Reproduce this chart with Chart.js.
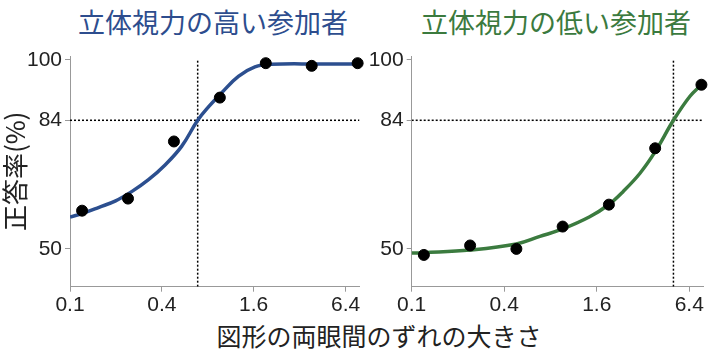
<!DOCTYPE html>
<html>
<head>
<meta charset="utf-8">
<script src="https://cdn.jsdelivr.net/npm/chart.js@4"></script>
<style>
    body { margin: 0; width: 720px; height: 351px; background: #fff; position: relative; overflow: hidden; }
    canvas { position: absolute; top: 0; }
    .ttl { position: absolute; font-family: "Noto Sans CJK JP"; white-space: nowrap; transform: translate(-50%, -50%); line-height: 1; }
</style>
</head>
<body>
<div class="ttl" id="ttlHigh" style="left:213px; top:21px; font-size:27px; color:#2d4d8e">立体視力の高い参加者</div>
<div class="ttl" id="ttlLow" style="left:556px; top:21px; font-size:27px; color:#3b7a3e">立体視力の低い参加者</div>
<div class="ttl" id="xTitle" style="left:379px; top:335px; font-size:25px; color:#222">図形の両眼間のずれの大きさ</div>
<canvas id="highChart" width="366" height="351" style="left:0"></canvas>
<canvas id="lowChart" width="358" height="351" style="left:362px"></canvas>
<script>
// ===== DATA =====
const xTicks = [0.1, 0.4, 1.6, 6.4];
const yTicks = [50, 84, 100];
const sizes = [0.12, 0.24, 0.48, 0.96, 1.92, 3.84, 7.68];

const highPts = [60.1, 63.3, 78.4, 90.0, 99.1, 98.4, 99.1];
const lowPts = [48.4, 50.9, 50.0, 55.9, 61.7, 76.6, 93.4];

// fitted curves
const highCurveX = [0.1, 0.121, 0.155, 0.199, 0.255, 0.327, 0.42, 0.539, 0.687, 0.811, 0.988, 1.27, 1.63, 2.08, 4.2, 7.9];
const highCurveY = [58.4, 59.4, 61.0, 62.7, 65.2, 68.3, 72.2, 77.1, 84.0, 87.6, 91.3, 95.6, 98.1, 98.8, 98.9, 98.9];
const lowCurveX = [0.1, 0.12, 0.24, 0.48, 0.683, 0.95, 1.44, 1.9, 2.38, 3.06, 3.84, 5.05, 6.45, 7.68];
const lowCurveY = [48.9, 49.0, 49.7, 51.3, 53.3, 55.2, 58.5, 61.6, 65.2, 70.0, 75.7, 84.0, 90.3, 93.4];

const threshLevel = 84;
const highThresh = 0.687;
const lowThresh = 5.05;

const xMin = 0.1, xMax = 7.9;
const yMin = 40, yMax = 101;

const zip = (xs, ys) => xs.map((x, i) => ({ x: x, y: ys[i] }));

function makePanel(id, opts) {
    const ctx = document.getElementById(id).getContext('2d');
    return new Chart(ctx, {
        type: 'scatter',
        data: {
            datasets: [
                {   // horizontal 84% line
                    data: [{ x: xMin, y: threshLevel }, { x: xMax, y: threshLevel }],
                    showLine: true, borderColor: '#000', borderWidth: 1.5, borderDash: [2, 2],
                    pointRadius: 0, order: 3
                },
                {   // vertical threshold line
                    data: [{ x: opts.thresh, y: yMin }, { x: opts.thresh, y: 100 }],
                    showLine: true, borderColor: '#000', borderWidth: 1.5, borderDash: [2, 2],
                    pointRadius: 0, order: 3
                },
                {
                    data: zip(opts.curveX, opts.curveY),
                    showLine: true, borderColor: opts.color, borderWidth: 3.5,
                    tension: 0.4, pointRadius: 0, order: 2
                },
                {
                    data: zip(sizes, opts.pts),
                    backgroundColor: '#000', borderColor: '#000', pointRadius: 5.5,
                    clip: false, order: 1
                }
            ]
        },
        options: {
            responsive: false,
            animation: false,
            layout: { padding: { top: 56, right: opts.padRight, left: 0, bottom: 0 } },
            plugins: { legend: { display: false }, tooltip: { enabled: false } },
            scales: {
                x: {
                    type: 'logarithmic', min: xMin, max: xMax,
                    afterBuildTicks: s => { s.ticks = xTicks.map(v => ({ value: v })); },
                    afterFit: s => { s.height = 64.3; },
                    ticks: {
                        autoSkip: false, maxRotation: 0, padding: 1, color: '#222',
                        font: { family: 'Liberation Sans', size: 21 },
                        callback: v => String(v)
                    },
                    grid: { drawOnChartArea: false, drawTicks: true, tickLength: 5, color: '#999' },
                    border: { color: '#999', width: 1 }
                },
                y: {
                    min: yMin, max: yMax,
                    afterBuildTicks: s => { s.ticks = yTicks.map(v => ({ value: v })); },
                    afterFit: s => { s.width = opts.axisWidth; },
                    ticks: {
                        padding: 3, color: '#222',
                        font: { family: 'Liberation Sans', size: 21 }
                    },
                    grid: { drawOnChartArea: false, drawTicks: true, tickLength: 5, color: '#999' },
                    border: { color: '#999', width: 1 },
                    title: {
                        display: opts.showTitle, text: '正答率(%)', color: '#222', padding: 0,
                        font: { family: 'Noto Sans CJK JP', size: 26 }
                    }
                }
            }
        }
    });
}

makePanel('highChart', {
    color: '#2c4f8f', thresh: highThresh, curveX: highCurveX, curveY: highCurveY, pts: highPts,
    axisWidth: 70, padRight: 4, showTitle: true
});
makePanel('lowChart', {
    color: '#3b7b3f', thresh: lowThresh, curveX: lowCurveX, curveY: lowCurveY, pts: lowPts,
    axisWidth: 49.7, padRight: 16.7, showTitle: false
});
</script>
</body>
</html>
